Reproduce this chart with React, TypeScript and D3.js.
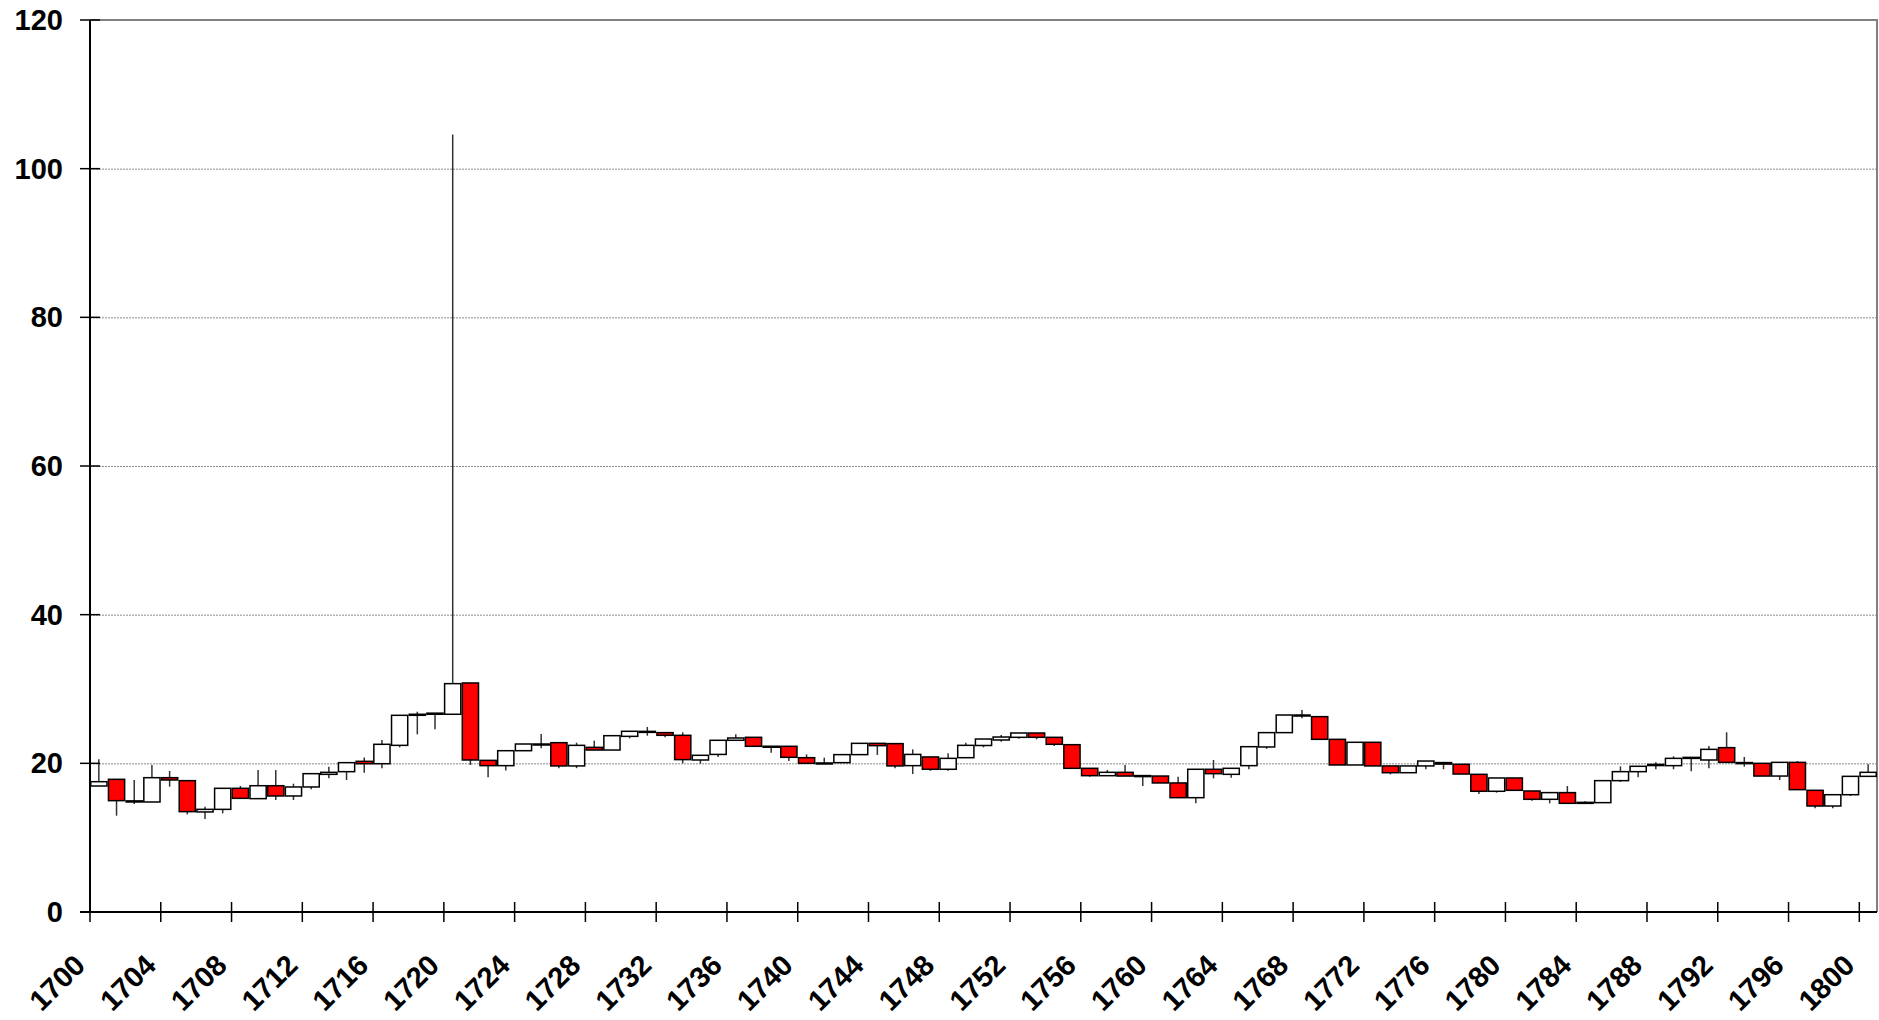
import React, { useEffect, useRef } from 'react'
import * as d3 from 'd3'

// yearly open / high / low / close, 1700..1800
const years = d3.range(1700, 1801)

const openVals = [
  16.95, 17.85, 14.8, 14.8, 18.07, 17.67, 13.46, 13.81, 16.64, 15.25,
  16.99, 15.61, 16.82, 18.52, 18.88, 20.27, 19.95, 22.42, 26.46, 26.6,
  26.6, 30.81, 20.4, 19.69, 21.7, 22.5, 22.78, 19.65, 22.15, 21.79,
  23.63, 24.2, 24.13, 23.77, 20.45, 21.2, 23.1, 23.5, 22.3, 22.29,
  20.76, 20.0, 20.09, 21.17, 22.69, 22.65, 19.69, 20.86, 19.2, 20.76,
  22.4, 23.14, 23.5, 24.08, 23.5, 22.51, 19.33, 18.34, 18.79, 18.35,
  18.29, 17.36, 15.38, 19.2, 18.52, 19.69, 22.2, 24.13, 26.5, 26.28,
  23.23, 19.78, 22.83, 19.65, 18.74, 19.65, 20.1, 19.87, 18.52, 16.24,
  18.03, 16.28, 15.16, 16.06, 14.65, 14.71, 17.67, 18.88, 19.85, 19.69,
  20.67, 20.45, 22.11, 20.1, 20.0, 18.29, 20.13, 16.37, 14.26, 15.78,
  18.25,
]

const highVals = [
  20.54, 17.85, 17.76, 19.78, 18.97, 17.67, 14.17, 16.64, 16.95, 19.1,
  19.1, 17.26, 18.7, 19.55, 20.09, 20.8, 23.14, 26.46, 26.95, 26.75,
  104.6, 30.81, 20.4, 21.7, 22.6, 23.95, 22.78, 22.78, 23.05, 23.72,
  24.31, 24.9, 24.13, 24.17, 21.08, 23.1, 23.9, 23.5, 22.3, 22.29,
  21.2, 20.76, 21.17, 22.69, 22.69, 22.65, 21.88, 20.86, 21.34, 22.78,
  23.27, 23.81, 24.08, 24.08, 23.5, 22.51, 19.33, 19.1, 19.78, 18.35,
  18.29, 18.2, 19.2, 20.45, 19.33, 22.24, 24.13, 26.5, 27.18, 26.28,
  23.23, 22.83, 22.83, 19.65, 19.65, 20.31, 20.1, 19.87, 18.52, 18.03,
  18.03, 16.28, 16.06, 16.95, 14.9, 17.67, 19.6, 19.6, 20.13, 20.95,
  20.8, 22.33, 24.17, 20.86, 20.0, 20.13, 20.31, 16.37, 15.78, 18.25,
  19.87,
]

const lowVals = [
  16.95, 12.96, 14.53, 14.8, 16.86, 13.13, 12.51, 13.27, 15.29, 15.25,
  15.07, 15.07, 16.5, 17.98, 17.76, 18.74, 19.35, 22.15, 23.9, 24.58,
  26.6, 19.78, 18.12, 19.02, 21.7, 22.02, 19.35, 19.35, 21.79, 21.79,
  23.37, 23.72, 23.5, 20.0, 19.95, 20.86, 23.1, 22.29, 21.43, 20.31,
  20.0, 20.0, 20.09, 21.17, 21.13, 19.35, 18.56, 19.0, 19.0, 20.76,
  22.15, 22.92, 23.32, 23.23, 22.33, 19.33, 18.2, 18.34, 18.29, 16.95,
  17.36, 15.38, 14.62, 17.98, 18.07, 19.2, 21.95, 24.13, 26.06, 23.23,
  19.78, 19.78, 19.65, 18.52, 18.74, 19.2, 19.2, 18.56, 15.88, 16.06,
  16.37, 14.98, 14.62, 14.62, 14.65, 14.71, 17.5, 18.12, 19.2, 19.2,
  18.92, 19.33, 20.13, 19.55, 18.29, 17.76, 16.46, 13.95, 13.95, 15.6,
  18.25,
]

const closeVals = [
  17.53, 14.98, 14.95, 18.07, 17.76, 13.5, 13.81, 16.64, 15.29, 16.99,
  15.61, 16.82, 18.61, 18.79, 20.09, 19.95, 22.56, 26.46, 26.6, 26.75,
  30.72, 20.45, 19.69, 21.7, 22.6, 22.6, 19.65, 22.42, 21.79, 23.72,
  24.31, 24.3, 23.77, 20.5, 21.08, 23.1, 23.41, 22.29, 22.2, 20.81,
  20.0, 20.05, 21.17, 22.69, 22.38, 19.65, 21.2, 19.2, 20.67, 22.42,
  23.27, 23.54, 24.08, 23.5, 22.56, 19.33, 18.34, 18.79, 18.29, 18.25,
  17.36, 15.38, 19.2, 18.61, 19.33, 22.24, 24.13, 26.5, 26.4, 23.23,
  19.78, 22.83, 19.65, 18.74, 19.65, 20.31, 19.9, 18.56, 16.24, 18.03,
  16.37, 15.16, 16.06, 14.62, 14.75, 17.67, 18.88, 19.6, 19.7, 20.67,
  20.8, 21.88, 20.13, 20.0, 18.29, 20.13, 16.46, 14.26, 15.78, 18.25,
  18.79,
]

const yTicks = [0, 20, 40, 60, 80, 100, 120]
const xTickYears = d3.range(1700, 1801, 4)

const WIDTH = 1879
const HEIGHT = 1020

export default function App() {
  const svgRef = useRef<SVGSVGElement>(null)

  useEffect(() => {
    if (!svgRef.current) return
    const svg = d3.select(svgRef.current)
    svg.selectAll('*').remove()

    const left = 90
    const right = 1877
    const top = 20
    const bottom = 912
    const font = '"Liberation Sans", Arial, sans-serif'

    const data = years.map((year, i) => ({
      year,
      open: openVals[i],
      high: highVals[i],
      low: lowVals[i],
      close: closeVals[i],
    }))

    const x = d3.scaleBand<number>()
      .domain(years)
      .range([left, right])
      .padding(0)

    const y = d3.scaleLinear()
      .domain([0, 120])
      .range([bottom, top])

    // dotted grid lines
    svg.append('g')
      .selectAll('line')
      .data(yTicks.filter(t => t > 0 && t < 120))
      .join('line')
      .attr('x1', left)
      .attr('x2', right)
      .attr('y1', d => y(d) + 0.5)
      .attr('y2', d => y(d) + 0.5)
      .attr('stroke', '#8a8a8a')
      .attr('stroke-width', 1)
      .attr('stroke-dasharray', '2,1')

    // plot frame (top + right, gray)
    svg.append('path')
      .attr('d', `M${left},${y(120)} H${right} V${bottom}`)
      .attr('fill', 'none')
      .attr('stroke', '#808080')
      .attr('stroke-width', 2)

    // high-low lines
    svg.append('g')
      .selectAll('line')
      .data(data)
      .join('line')
      .attr('x1', d => (x(d.year) ?? 0) + x.bandwidth() / 2)
      .attr('x2', d => (x(d.year) ?? 0) + x.bandwidth() / 2)
      .attr('y1', d => y(d.high))
      .attr('y2', d => y(d.low))
      .attr('stroke', '#333')
      .attr('stroke-width', 1.5)

    // candle bodies
    svg.append('g')
      .selectAll('rect')
      .data(data)
      .join('rect')
      .attr('x', d => (x(d.year) ?? 0) + 0.75)
      .attr('width', x.bandwidth() - 1.5)
      .attr('y', d => y(Math.max(d.open, d.close)))
      .attr('height', d => Math.max(1, Math.abs(y(d.open) - y(d.close))))
      .attr('fill', d => (d.close < d.open ? '#ff0000' : '#ffffff'))
      .attr('stroke', '#000')
      .attr('stroke-width', 1.5)

    // y axis
    const yAxis = svg.append('g')
    yAxis.append('line')
      .attr('x1', left).attr('x2', left)
      .attr('y1', top).attr('y2', bottom)
      .attr('stroke', '#000').attr('stroke-width', 2)
    yAxis.selectAll('line.tick')
      .data(yTicks)
      .join('line')
      .attr('class', 'tick')
      .attr('x1', left - 10).attr('x2', left + 10)
      .attr('y1', d => y(d)).attr('y2', d => y(d))
      .attr('stroke', '#000').attr('stroke-width', 1.5)
    yAxis.selectAll('text')
      .data(yTicks)
      .join('text')
      .attr('x', 63)
      .attr('y', d => y(d))
      .attr('dy', '0.35em')
      .attr('text-anchor', 'end')
      .style('font-family', font)
      .style('font-weight', 'bold')
      .style('font-size', '29px')
      .text(d => d)

    // x axis
    const xAxis = svg.append('g')
    xAxis.append('line')
      .attr('x1', left - 10).attr('x2', right)
      .attr('y1', bottom).attr('y2', bottom)
      .attr('stroke', '#000').attr('stroke-width', 2)
    xAxis.selectAll('line.tick')
      .data(xTickYears)
      .join('line')
      .attr('class', 'tick')
      .attr('x1', d => x(d) ?? 0).attr('x2', d => x(d) ?? 0)
      .attr('y1', bottom - 10).attr('y2', bottom + 10)
      .attr('stroke', '#000').attr('stroke-width', 1.5)
    xAxis.selectAll('text')
      .data(xTickYears)
      .join('text')
      .attr('transform', d => `translate(${(x(d) ?? 0) - 3},${bottom + 55}) rotate(-45)`)
      .attr('text-anchor', 'end')
      .style('font-family', font)
      .style('font-weight', 'bold')
      .style('font-size', '29px')
      .text(d => d)
  }, [])

  return (
    <svg
      ref={svgRef}
      width={WIDTH}
      height={HEIGHT}
      style={{ position: 'absolute', left: 0, top: 0, background: '#fff' }}
    />
  )
}
